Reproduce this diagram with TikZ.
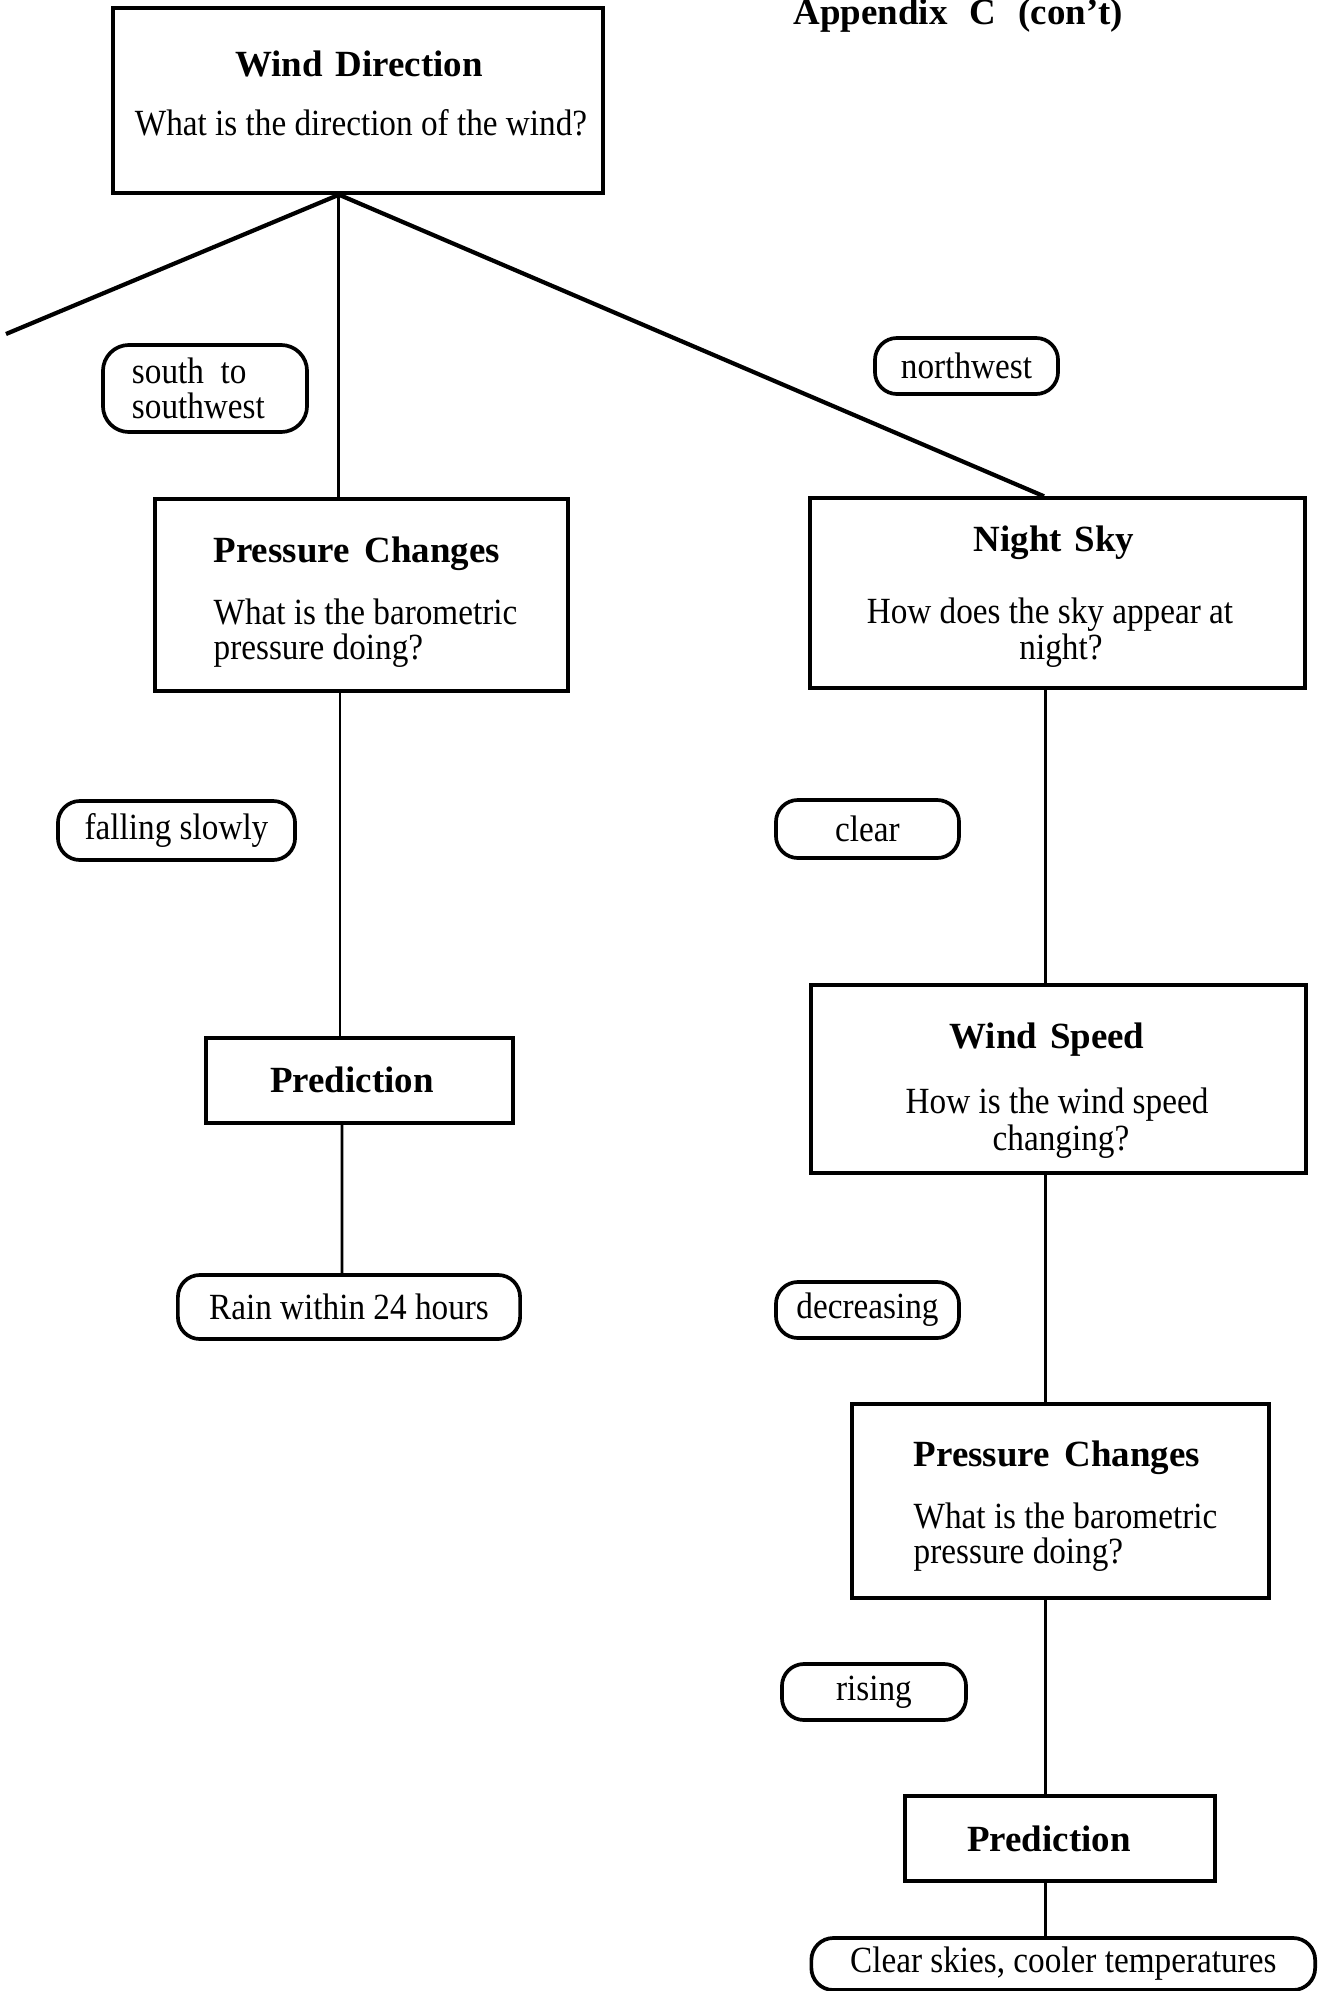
\documentclass[tikz,border=0pt]{standalone}
\usepackage{fontspec}
\setmainfont{Liberation Serif}
\newfontfamily\bodyfont[FakeStretch=0.9]{Liberation Serif}
\usetikzlibrary{calc}
\tikzset{
  box/.style={draw, line width=0.95pt, inner sep=0pt},
  lab/.style={draw, line width=1.05pt, rounded corners=0.22cm, inner sep=0pt,
    font=\bodyfont\fontsize{10.5}{10}\selectfont, align=center},
  ttl/.style={font=\bfseries\fontsize{10.5}{10}\selectfont, inner sep=0pt},
  txt/.style={font=\bodyfont\fontsize{10.5}{10}\selectfont, inner sep=0pt},
  conn/.style={line width=0.85pt},
  diag/.style={line width=1.2pt},
}
\begin{document}
\begin{tikzpicture}[x=0.01cm,y=-0.01cm]
\useasboundingbox (0,0) rectangle (1317,1991);

% heading
\node[ttl, anchor=base west] (app) at (793,25) {Appendix\hspace{0.6em}C\hspace{0.6em}(con't)};

% boxes
\node[box, minimum width=4.90cm, minimum height=1.85cm] (wd) at (358,100.5) {};
\node[box, minimum width=4.13cm, minimum height=1.92cm] (pc) at (361.5,595) {};
\node[box, minimum width=4.95cm, minimum height=1.90cm] (ns) at (1057.5,593) {};
\node[box, minimum width=3.07cm, minimum height=0.85cm] (pr) at (359.5,1080.5) {};
\node[box, minimum width=4.95cm, minimum height=1.88cm] (ws) at (1058.5,1079) {};
\node[box, minimum width=4.17cm, minimum height=1.94cm] (pcb) at (1060.5,1501) {};
\node[box, minimum width=3.10cm, minimum height=0.85cm] (prb) at (1060,1838.5) {};

% box texts
\node[ttl, anchor=base] (wdT) at (359,77) {Wind\hspace{0.35em}Direction};
\node[txt, anchor=base] (wdQ) at (361,135.5) {What is the direction of the wind?};

\node[ttl, anchor=base west] (pcT) at (213,562) {Pressure\hspace{0.4em}Changes};
\node[txt, anchor=base west] (pcQa) at (213,624) {What is the barometric};
\node[txt, anchor=base west] (pcQb) at (213,659.5) {pressure doing?};

\node[ttl, anchor=base] (nsT) at (1054,551.5) {Night\hspace{0.35em}Sky};
\node[txt, anchor=base] (nsQa) at (1050,623) {How does the sky appear at};
\node[txt, anchor=base] (nsQb) at (1061,659) {night?};

\node[ttl, anchor=base] (prT) at (352,1092) {Prediction};

\node[ttl, anchor=base] (wsT) at (1047,1048.5) {Wind\hspace{0.35em}Speed};
\node[txt, anchor=base] (wsQa) at (1057,1113) {How is the wind speed};
\node[txt, anchor=base] (wsQb) at (1061,1150) {changing?};

\node[ttl, anchor=base west] (pcbT) at (913,1466.5) {Pressure\hspace{0.4em}Changes};
\node[txt, anchor=base west] (pcbQa) at (913,1528.5) {What is the barometric};
\node[txt, anchor=base west] (pcbQb) at (913,1563) {pressure doing?};

\node[ttl, anchor=base] (prbT) at (1049,1851) {Prediction};

% answer labels
\node[lab, text width=1.46cm, inner xsep=0.29cm, minimum height=0.87cm, rounded corners=0.26cm, align=left] (ss) at (205,388.5) {south\hspace{0.45em}to\\southwest};
\node[lab, minimum width=1.83cm, minimum height=0.56cm] (nw) at (966.5,366) {northwest};
\node[lab, minimum width=2.37cm, minimum height=0.59cm] (fs) at (176.5,830.5) {falling slowly};
\node[lab, minimum width=3.42cm, minimum height=0.64cm] (rain) at (349,1307) {Rain within 24 hours};
\node[lab, minimum width=1.83cm, minimum height=0.58cm] (cl) at (867.5,829) {clear};
\node[lab, minimum width=1.83cm, minimum height=0.56cm] (dec) at (867.5,1310) {decreasing};
\node[lab, minimum width=1.84cm, minimum height=0.56cm] (ri) at (874,1692) {rising};
\node[lab, minimum width=5.035cm, minimum height=0.52cm] (cs) at (1063.25,1964) {Clear skies, cooler temperatures};

% column guides
\coordinate (lc) at (340,0);
\coordinate (rc) at (1045,0);
\coordinate (lend) at (6,334);
\coordinate (apex) at ([xshift=-0.19cm]wd.south);

% connectors
\draw[diag] (apex) -- (lend);
\draw[conn] (apex) -- (apex |- pc.north);
\draw[diag] (apex) -- ([xshift=-0.135cm]ns.north);

\draw[conn] (pc.south -| lc) -- (pr.north -| lc);
\draw[conn] ([xshift=-0.175cm]pr.south) -- ([xshift=-0.07cm]rain.north);

\draw[conn] (ns.south -| rc) -- (ws.north -| rc);
\draw[conn] (ws.south -| rc) -- (pcb.north -| rc);
\draw[conn] (pcb.south -| rc) -- (prb.north -| rc);
\draw[conn] (prb.south -| rc) -- (cs.north -| rc);
\end{tikzpicture}
\end{document}
